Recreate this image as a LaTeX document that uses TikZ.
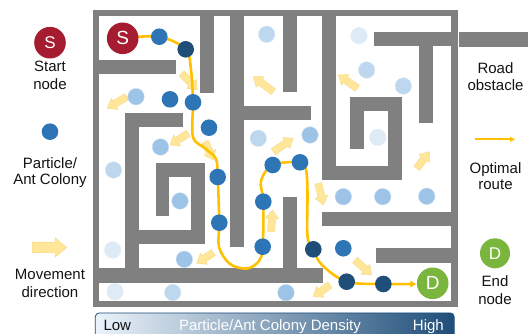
\documentclass[tikz,border=0pt]{standalone}
\usepackage{fontspec}
\setmainfont{Liberation Sans}
\usetikzlibrary{calc,arrows.meta}
\definecolor{wallc}{RGB}{128,128,128}
\definecolor{cdark}{RGB}{31,78,121}
\definecolor{cmed}{RGB}{46,117,182}
\definecolor{clA}{RGB}{157,195,230}
\definecolor{clB}{RGB}{189,215,238}
\definecolor{clC}{RGB}{222,235,247}
\definecolor{startc}{RGB}{165,28,48}
\definecolor{endc}{RGB}{122,181,62}
\definecolor{routec}{RGB}{255,192,0}
\definecolor{arrfill}{RGB}{255,230,153}
\definecolor{arrdraw}{RGB}{247,217,135}
\definecolor{txtc}{RGB}{20,20,20}
\newcommand\mvArrow[5]{%
  \coordinate (mvA) at (#1);
  \coordinate (mvB) at (#2);
  \coordinate (mvH) at ($(mvB)!#5!(mvA)$);
  \filldraw[mvarrow] ($(mvA)!#3!90:(mvB)$) -- ($(mvH)!#3!90:(mvB)$) -- ($(mvH)!#4!90:(mvB)$) -- (mvB)
     -- ($(mvH)!#4!-90:(mvB)$) -- ($(mvH)!#3!-90:(mvB)$) -- ($(mvA)!#3!-90:(mvB)$) -- cycle;}
\begin{document}
\begin{tikzpicture}[x=1pt,y=-1pt,
  wall/.style={fill=wallc},
  mvarrow/.style={fill=arrfill,draw=arrdraw,line width=0.4pt},
  part/.style={circle,inner sep=0pt,minimum size=16.6pt},
  pdark/.style={part,fill=cdark},
  pmed/.style={part,fill=cmed},
  plA/.style={part,fill=clA,draw=white!50!clA,line width=0.4pt},
  plB/.style={part,fill=clB,draw=white!50!clB,line width=0.4pt},
  plC/.style={part,fill=clC,draw=white!70!clA,line width=0.4pt},
  term/.style={circle,inner sep=0pt,minimum size=31.6pt,text=white},
  lab/.style={anchor=base,inner sep=0pt,text=txtc,font=\fontsize{15pt}{18pt}\selectfont},
  route/.style={draw=routec,line width=2.6pt,line cap=round}
]
\clip (0,0) rectangle (528,334);
\fill[white] (0,0) rectangle (528,334);

% ---- maze walls ----
\draw[wallc,line width=6.4pt] (96.2,13.2) rectangle (454.4,303.7);
\fill[wall] (96,60) rectangle (176,74);
\fill[wall] (200,13) rectangle (214,93);
\fill[wall] (230,13) rectangle (244,247);
\fill[wall] (244,106) rectangle (311,120);
\fill[wall] (283,13) rectangle (297,92);
\fill[wall] (322,13) rectangle (336,180);
\fill[wall] (322,166) rectangle (402,180);
\fill[wall] (388,97) rectangle (402,180);
\fill[wall] (350,97) rectangle (402,111);
\fill[wall] (350,97) rectangle (364,149);
\fill[wall] (374,32) rectangle (454,46);
\fill[wall] (419,32) rectangle (433,123);
\fill[wall] (125,113) rectangle (183,127);
\fill[wall] (125,113) rectangle (139,283);
\fill[wall] (96,268) rectangle (323,283);
\fill[wall] (139,230) rectangle (205,244);
\fill[wall] (191,163) rectangle (205,244);
\fill[wall] (156,163) rectangle (205,177);
\fill[wall] (156,163) rectangle (169,216);
\fill[wall] (283,197) rectangle (297,270);
\fill[wall] (322,212) rectangle (454,226);
\fill[wall] (376,248) rectangle (454,263);

% ---- movement arrows ----
\mvArrow{181.7,73.3}{197.3,90}{3.6pt}{6.6pt}{8.5pt}
\mvArrow{273.3,91.7}{253.3,76.7}{3.6pt}{6.6pt}{8.5pt}
\mvArrow{126.7,96.7}{107.3,108.3}{3.6pt}{6.6pt}{8.5pt}
\mvArrow{188.3,133.3}{170,145}{3.6pt}{6.6pt}{8.5pt}
\mvArrow{205,141.7}{213.3,160}{3.6pt}{6.6pt}{8.5pt}
\mvArrow{273.3,151.7}{293.3,138.3}{3.6pt}{6.6pt}{8.5pt}
\mvArrow{357.3,88.3}{338.3,75}{3.6pt}{6.6pt}{8.5pt}
\mvArrow{416.7,168.3}{429.3,151.7}{3.6pt}{6.6pt}{8.5pt}
\mvArrow{318.3,183.3}{323.3,205}{3.6pt}{6.6pt}{8.5pt}
\mvArrow{271,231.7}{272.7,210}{3.6pt}{6.6pt}{8.5pt}
\mvArrow{213.3,252.7}{196.7,263.3}{3.6pt}{6.6pt}{8.5pt}
\mvArrow{355,260}{371.7,275}{3.6pt}{6.6pt}{8.5pt}
\mvArrow{330,285}{313.3,296.7}{3.6pt}{6.6pt}{8.5pt}

% ---- route coordinates ----
\coordinate (cS) at (122.7,38.3);
\coordinate (cm1) at (159.3,36.7);
\coordinate (cd1) at (185.7,49.3);
\coordinate (cm3) at (193,102.3);
\coordinate (cm4) at (217.7,177);
\coordinate (cm5) at (219.3,222.7);
\coordinate (cm6) at (262.7,246.7);
\coordinate (cm7) at (263.3,201.7);
\coordinate (cm8) at (272.7,165);
\coordinate (cm9) at (300,162.3);
\coordinate (cd2) at (313.3,249.3);
\coordinate (cd3) at (346.7,281.7);
\coordinate (cd4) at (383.3,284);
\coordinate (cD) at (432.7,283.3);
\coordinate (cDedge) at (416.3,284);

\draw[route,-{Triangle[length=6pt,width=6.5pt]}] plot[smooth,tension=0.55] coordinates {
 (cS) (cm1) (cd1) (191,70) (cm3) (193,137) (206,149) (216,159) (cm4) (cm5) (219,247) (230,264) (247,268.5) (259,261) (cm6) (cm7) (261,181) (cm8) (cm9) (306,170) (307.5,192) (307.5,236) (cd2) (322,265) (cd3) (cd4) (cDedge)};

% ---- particles ----
\node[pmed] (m1) at (cm1) {};
\node[pmed] (m2) at (170,99.3) {};
\node[pmed] (m3) at (cm3) {};
\node[pmed] (m3b) at (209,127.7) {};
\node[pmed] (m4) at (cm4) {};
\node[pmed] (m5) at (cm5) {};
\node[pmed] (m6) at (cm6) {};
\node[pmed] (m7) at (cm7) {};
\node[pmed] (m8) at (cm8) {};
\node[pmed] (m9) at (cm9) {};
\node[pmed] (m10) at (343.3,248.3) {};
\node[pdark] (d1) at (cd1) {};
\node[pdark] (d2) at (cd2) {};
\node[pdark] (d3) at (cd3) {};
\node[pdark] (d4) at (cd4) {};
\node[plA] (a1) at (136,96.7) {};
\node[plA] (a2) at (160.5,147) {};
\node[plA] (a3) at (310,135) {};
\node[plA] (a4) at (180,201) {};
\node[plA] (a5) at (184.3,259.3) {};
\node[plA] (a6) at (286,292.7) {};
\node[plA] (a7) at (343.3,196.7) {};
\node[plA] (a8) at (382.7,196.7) {};
\node[plA] (a9) at (426.7,196.3) {};
\node[plB] (b1) at (266.7,34.3) {};
\node[plB] (b2) at (258.3,138.3) {};
\node[plB] (b3) at (366.7,70) {};
\node[plB] (b4) at (403.3,86) {};
\node[plB] (b5) at (113.5,170) {};
\node[plB] (b6) at (172.7,292.5) {};
\node[plC] (c1) at (359,35.7) {};
\node[plC] (c2) at (377.7,137.3) {};
\node[plC] (c3) at (112.7,250) {};
\node[plC] (c4) at (115,291.7) {};

% ---- start / end ----
\node[term,fill=startc,font=\fontsize{19pt}{19pt}\selectfont] (S) at (cS) {S};
\node[term,fill=endc,font=\fontsize{19pt}{19pt}\selectfont] (D) at (cD) {D};

% ---- legend left ----
\node[term,fill=startc,font=\fontsize{17pt}{17pt}\selectfont] (legS) at (50,42.7) {S};
\node[lab] (lstart1) at (50,71.7) {Start};
\node[lab] (lstart2) at (50,90) {node};
\node[pmed] (legP) at (50,131.7) {};
\node[lab] (lpart1) at (50,168.3) {Particle/};
\node[lab] (lpart2) at (50,185) {Ant Colony};
\mvArrow{32.3,247.5}{66.7,247.5}{5.3pt}{9.8pt}{11.7pt}
\node[lab] (lmov1) at (50,279.3) {Movement};
\node[lab] (lmov2) at (50,297.7) {direction};

% ---- legend right ----
\fill[wall] (459,32) rectangle (528,47);
\node[lab] (lroad1) at (495.5,73.3) {Road};
\node[lab] (lroad2) at (495.5,91) {obstacle};
\coordinate (lrA) at (475,139.3);
\coordinate (lrB) at (515,139.3);
\draw[draw=routec,line width=1.6pt,-{Triangle[length=5pt,width=5pt]}] (lrA) -- (lrB);
\node[lab] (lopt1) at (495.5,173.3) {Optimal};
\node[lab] (lopt2) at (495.5,190) {route};
\node[term,fill=endc,minimum size=30pt,font=\fontsize{17pt}{17pt}\selectfont] (legD) at (495,253.3) {D};
\node[lab] (lend1) at (495,286.7) {End};
\node[lab] (lend2) at (495,304.3) {node};

% ---- density bar ----
\draw[rounded corners=4pt,draw=cdark,line width=0.8pt,left color=clC!60!white,middle color=clA,right color=cdark] (95.3,312.9) rectangle (454.2,345);
\node[lab,anchor=base west] (blow) at (103.3,330) {Low};
\node[lab,text=white] (bmid) at (270,330) {Particle/Ant Colony Density};
\node[lab,anchor=base east,text=white] (bhigh) at (444,330) {High};
\end{tikzpicture}
\end{document}
